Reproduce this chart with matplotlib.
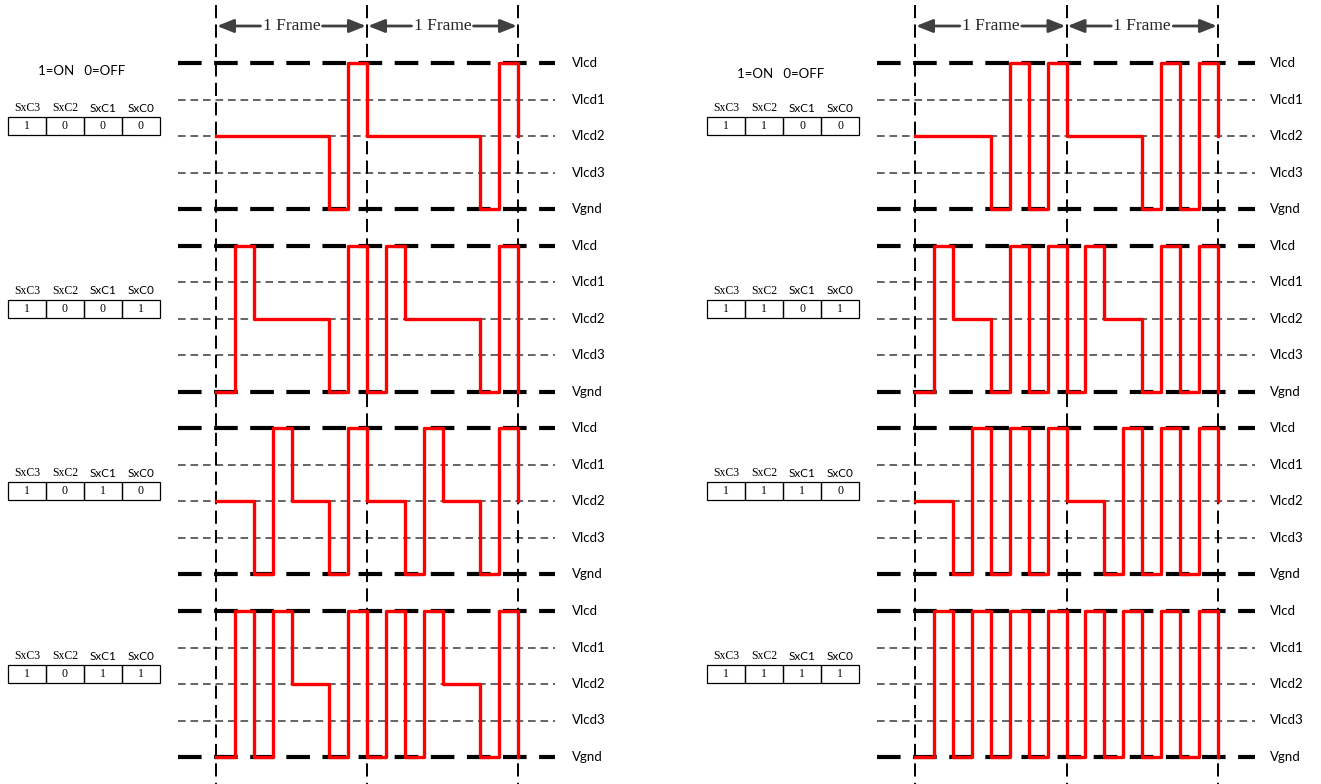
import matplotlib
matplotlib.use('Agg')
import matplotlib.pyplot as plt
from matplotlib.patches import Rectangle

plt.rcParams['lines.scale_dashes'] = False

# data
level_names = ['Vlcd', 'Vlcd1', 'Vlcd2', 'Vlcd3', 'Vgnd']
level_values = [4, 3, 2, 1, 0]
bit_names = ['SxC3', 'SxC2', 'SxC1', 'SxC0']
left_codes = ['1000', '1001', '1010', '1011']
right_codes = ['1100', '1101', '1110', '1111']
pulse_on = [0, 4]    # Vgnd then Vlcd
pulse_off = [2, 2]   # stays at Vlcd2
n_frames = 2

SERIF = 'Liberation Serif'
SANS = 'Lato'
RED = '#ff0000'

fig = plt.figure(figsize=(13.21, 7.84), dpi=100)
ax = fig.add_axes([0, 0, 1, 1])
ax.set_xlim(0, 1321)
ax.set_ylim(784, 0)
ax.axis('off')

row_top = [63, 245.5, 428, 611]
lvl_gap = 36.5
panels = [
    dict(codes=left_codes, frame_x=216, frame_w=151, line_x=(178, 555), label_x=572,
         table_x=8, legend=(82, 71)),
    dict(codes=right_codes, frame_x=915, frame_w=151.5, line_x=(877, 1255), label_x=1270,
         table_x=707, legend=(781, 74)),
]


def wave(code):
    vals = []
    for i in range(4):
        bit = code[3 - i]
        vals += pulse_on if bit == '1' else pulse_off
    return vals * n_frames


for p in panels:
    fx, fw = p['frame_x'], p['frame_w']
    sw = fw / 8.0
    # frame boundaries
    for k in range(n_frames + 1):
        ax.plot([fx + k * fw] * 2, [5, 784], color='black', lw=1.4,
                dashes=(9.5, 4.5), zorder=2)
    # frame arrows
    for k in range(n_frames):
        x0, x1 = fx + k * fw, fx + (k + 1) * fw
        xm = (x0 + x1) / 2
        for xa, xb in [(xm - 31, x0 + 1), (xm + 31, x1 - 1)]:
            ax.annotate('', xy=(xb, 26), xytext=(xa, 26),
                        arrowprops=dict(arrowstyle='-|>,head_length=1.0,head_width=0.4',
                                        color='#404040', lw=2, shrinkA=0, shrinkB=0))
        ax.text(xm, 26, '1 Frame', family=SERIF, fontsize=12.5, color='#262626',
                ha='center', va='center')
    # legend text
    ax.text(p['legend'][0], p['legend'][1], '1=ON   0=OFF', family=SANS, fontsize=9.5,
            ha='center', va='center')
    for r, code in enumerate(p['codes']):
        yt = row_top[r]
        ys = [yt + (4 - v) * lvl_gap for v in level_values]
        for name, v, y in zip(level_names, level_values, ys):
            thick = v in (0, 4)
            ax.plot(p['line_x'], [y, y], color='black' if thick else '#3a3a3a',
                    lw=3 if thick else 1.1, dashes=(17, 9) if thick else (5.5, 3.5), zorder=1)
            ax.text(p['label_x'], y, name, family=SANS, fontsize=9.5, ha='left', va='center')
        # waveform
        vals = wave(code)
        xs = [fx + i * sw for i in range(len(vals) + 1)]
        yv = [yt + (4 - v) * lvl_gap for v in vals + [vals[0]]]
        ax.step(xs, yv, where='post', color=RED, lw=2.4, zorder=3)
        # register table
        y2 = yt + 2 * lvl_gap
        bx = p['table_x']
        for j, (bn, b) in enumerate(zip(bit_names, code)):
            cx = bx + j * 38
            ax.add_patch(Rectangle((cx, y2 - 19), 38, 18, fill=False, ec='black', lw=0.9))
            ax.text(cx + 19, y2 - 10, b, family=SERIF, fontsize=8.5, ha='center', va='center')
            ax.text(cx + 19, y2 - 28, bn, family=SERIF if j < 2 else SANS, fontsize=8.5,
                    ha='center', va='center')

fig.savefig('out.png', dpi=100)
